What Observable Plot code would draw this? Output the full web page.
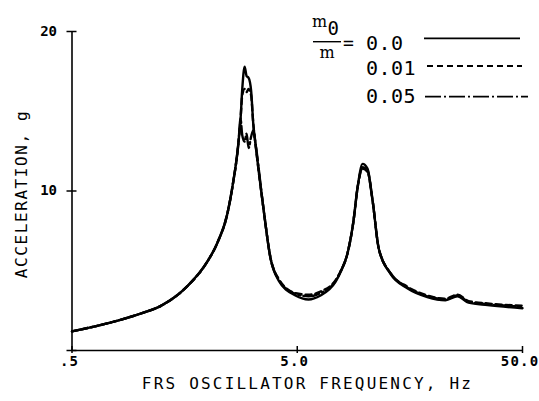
<!DOCTYPE html>
<html><head><meta charset="utf-8">
<script src="https://cdn.jsdelivr.net/npm/d3@7"></script>
<script src="https://cdn.jsdelivr.net/npm/@observablehq/plot@0.6"></script>
<style>
html,body{margin:0;padding:0;background:#fff;}
#chart{position:relative;width:539px;height:401px;}
</style></head><body><div id="chart"></div>
<script>
// FRS oscillator frequency, Hz
const freq = [0.5, 0.74, 1.0, 1.24, 1.63, 2.0, 2.21, 2.45, 2.58, 2.74, 2.80, 2.85, 2.92, 2.98, 3.04, 3.12, 3.19, 3.26, 3.54, 3.80, 4.13, 4.91, 5.61, 6.34, 7.39, 7.78, 8.36, 8.88, 9.26, 9.75, 10.25, 10.8, 11.5, 12.97, 15.4, 18.9, 22.75, 25.7, 28.8, 35, 50];
// acceleration, g — m0/m = 0.0
const accel00 = [1.2, 1.75, 2.3, 2.8, 4.05, 5.6, 6.75, 8.6, 10.3, 13.0, 14.5, 16.4, 17.8, 17.2, 17.1, 16.3, 14.2, 13.0, 8.9, 5.8, 4.4, 3.45, 3.2, 3.45, 4.3, 4.9, 6.1, 8.1, 10.2, 11.7, 11.4, 9.4, 6.4, 4.8, 3.9, 3.35, 3.15, 3.4, 3.0, 2.85, 2.65];
// m0/m = 0.01
const accel01 = [1.2, 1.75, 2.3, 2.8, 4.05, 5.6, 6.75, 8.6, 10.3, 13.0, 14.5, 16.0, 16.4, 16.2, 16.4, 16.0, 14.2, 13.0, 8.9, 5.85, 4.5, 3.6, 3.5, 3.7, 4.4, 4.95, 6.1, 8.1, 10.2, 11.5, 11.3, 9.4, 6.4, 4.85, 4.0, 3.45, 3.25, 3.5, 3.1, 2.95, 2.8];
// m0/m = 0.05
const accel05 = [1.2, 1.75, 2.3, 2.8, 4.05, 5.6, 6.75, 8.6, 10.3, 13.0, 14.5, 13.5, 13.1, 13.6, 12.7, 13.4, 13.8, 13.0, 8.9, 5.85, 4.45, 3.55, 3.4, 3.6, 4.35, 4.95, 6.1, 8.1, 10.2, 11.4, 11.2, 9.4, 6.4, 4.85, 3.95, 3.4, 3.2, 3.45, 3.05, 2.9, 2.75];

const seriesLabels = ["0.0", "0.01", "0.05"];
const seriesDash = [null, "6,4", "16,3,2,3"];
const xTicks = [0.5, 5, 50];
const xTickLabels = [".5", "5.0", "50.0"];
const yTicks = [10, 20];
const yTickLabels = ["10", "20"];
const yTickMarks = [0, 10, 20];
const xDomain = [0.5, 50];
const yDomain = [0, 20];
const xTitle = "FRS OSCILLATOR FREQUENCY, Hz";
const yTitle = "ACCELERATION, g";

const seriesValues = [accel00, accel01, accel05];
const rows = seriesLabels.flatMap((s, k) => freq.map((f, i) => ({f, a: seriesValues[k][i], s})));

const mono = "DejaVu Sans Mono";
const plot = Plot.plot({
  width: 539, height: 401,
  marginLeft: 71.5, marginRight: 17, marginTop: 31, marginBottom: 51,
  x: {type: "log", domain: xDomain},
  y: {domain: yDomain},
  style: {background: "white", color: "black", fontFamily: mono},
  marks: [
    Plot.ruleX([xDomain[0]], {stroke: "black", strokeWidth: 1.6}),
    Plot.ruleY([yDomain[0]], {stroke: "black", strokeWidth: 1.6}),
    Plot.ruleY(yTickMarks, {y: d => d, x1: xDomain[0], x2: xDomain[0], insetLeft: -5, insetRight: -5, stroke: "black", strokeWidth: 1.5}),
    Plot.ruleX(xTicks, {x: d => d, y1: yDomain[0], y2: yDomain[0], insetTop: -4, insetBottom: -3, stroke: "black", strokeWidth: 1.5}),
    Plot.axisY({ticks: yTicks, tickSize: 0, tickPadding: 15, label: null,
      tickFormat: d => yTickLabels[yTicks.indexOf(d)]}),
    Plot.axisX({ticks: xTicks, tickSize: 0, tickPadding: 6, label: null,
      tickFormat: d => xTickLabels[xTicks.indexOf(d)]}),
    ...seriesLabels.map((s, k) => Plot.line(rows, {
      filter: d => d.s === s, x: "f", y: "a", curve: "monotone-x",
      stroke: "black", strokeWidth: 2.4, strokeDasharray: seriesDash[k] ?? undefined
    }))
  ]
});
document.getElementById("chart").appendChild(plot);

const svg = d3.select(plot);
svg.selectAll("text").each(function () {
  const t = this.textContent;
  const el = d3.select(this);
  if (yTickLabels.includes(t)) {
    el.style("font-size", "14px").style("font-weight", "bold").style("font-family", mono);
  } else if (xTickLabels.includes(t)) {
    el.style("font-size", "14px").style("font-weight", "bold").style("font-family", mono)
      .style("letter-spacing", "1.2px").attr("dx", -2.5);
  }
});

// axis titles
svg.append("text").attr("x", 307.5).attr("y", 388.5).attr("text-anchor", "middle")
  .attr("font-family", mono).attr("font-size", 16).style("letter-spacing", "2.2px").attr("fill", "black")
  .text(xTitle);
svg.append("text").attr("transform", "translate(27,194) rotate(-90)").attr("text-anchor", "middle")
  .attr("font-family", mono).attr("font-size", 16).style("letter-spacing", "1.6px").attr("fill", "black")
  .text(yTitle);

// legend
const lg = svg.append("g").attr("fill", "black").attr("text-anchor", "start");
lg.append("text").attr("x", 312).attr("y", 26.5).attr("font-family", "DejaVu Serif").attr("font-size", 16).text("m");
lg.append("text").attr("x", 327.5).attr("y", 35).attr("font-family", mono).attr("font-size", 19).text("0");
lg.append("line").attr("x1", 313).attr("x2", 341).attr("y1", 41.7).attr("y2", 41.7).attr("stroke", "black").attr("stroke-width", 1.4);
lg.append("text").attr("x", 319.5).attr("y", 58).attr("font-family", "DejaVu Serif").attr("font-size", 16).text("m");
lg.append("text").attr("x", 343).attr("y", 49).attr("font-family", mono).attr("font-size", 18).text("=");
const legY = [50, 75, 103];
const lineY = [38.3, 66, 96.7];
const lineX = [[424, 520], [427, 522], [425, 528]];
seriesLabels.forEach((s, k) => {
  lg.append("text").attr("x", 366).attr("y", legY[k]).attr("font-family", mono).attr("font-size", 20)
    .style("letter-spacing", "0.5px").text(s);
  const ln = lg.append("line").attr("x1", lineX[k][0]).attr("x2", lineX[k][1]).attr("y1", lineY[k]).attr("y2", lineY[k])
    .attr("stroke", "black").attr("stroke-width", 1.8);
  if (seriesDash[k]) ln.attr("stroke-dasharray", seriesDash[k]);
});
</script></body></html>
